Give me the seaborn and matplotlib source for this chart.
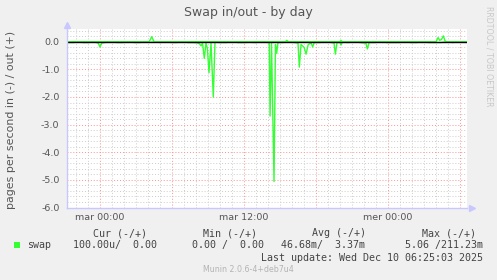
import matplotlib
matplotlib.use("Agg")
import matplotlib.pyplot as plt
import matplotlib.ticker as mticker
import seaborn as sns
import pandas as pd

# ---- data (hours relative to "mar 00:00") ----
t_in = [-2.75, -2.2, -1.8, -1.4, -1.0, -0.5, -0.15, 0.0, 0.15, 0.5, 1.0, 1.4,
        1.9, 2.4, 2.9, 3.3, 3.8, 4.2, 4.6, 5.0, 5.5, 6.0, 6.4, 6.9, 7.3, 7.7,
        8.1, 8.3, 8.42, 8.54, 8.69, 8.83, 8.95, 9.08, 9.25, 9.44, 9.58, 10.0,
        10.5, 11.0, 11.5, 12.0, 12.5, 13.0, 13.5, 14.0, 14.1, 14.17, 14.29,
        14.5, 14.62, 14.72, 14.83, 15.2, 15.7, 16.2, 16.5, 16.61, 16.75, 17.0,
        17.17, 17.35, 17.6, 17.72, 17.85, 18.3, 18.8, 19.3, 19.5, 19.61, 19.75,
        20.0, 20.08, 20.2, 20.7, 21.2, 21.7, 22.15, 22.28, 22.42, 22.9, 23.4,
        23.9, 24.4, 24.9, 25.4, 25.9, 26.4, 26.9, 27.4, 27.9, 28.4, 28.9, 29.4,
        29.9, 30.58]
v_in = [-0.03, -0.03, 0.0, -0.03, -0.03, 0.0, -0.05, -0.19, -0.05, -0.02, 0.0, -0.03,
        -0.03, 0.0, -0.03, -0.03, 0.0, -0.02, 0.0, -0.03, 0.0, -0.03, -0.03, 0.0, -0.03, -0.03,
        -0.04, -0.08, -0.15, -0.05, -0.60, -0.05, -0.25, -1.12, -0.05, -2.00, -0.02, -0.03,
        -0.03, 0.0, -0.03, -0.03, -0.02, -0.03, 0.0, -0.03, -0.05, -2.69, -0.05,
        -5.06, -0.10, -0.42, -0.03, -0.03, 0.0, -0.03, -0.05, -0.92, -0.10, -0.20,
        -0.45, -0.10, -0.05, -0.19, -0.03, -0.03, 0.0, -0.03, -0.05, -0.45, -0.03,
        -0.03, -0.12, -0.02, -0.03, 0.0, -0.03, -0.05, -0.26, -0.03, -0.03, 0.0,
        -0.03, -0.03, -0.03, 0.0, -0.03, -0.03, 0.0, -0.03, -0.03, -0.03, 0.0, -0.03,
        0.0, -0.02]

t_out = [-2.75, 4.1, 4.31, 4.5, 15.45, 15.56, 15.7, 20.0, 20.08, 20.18,
         28.0, 28.17, 28.3, 28.45, 28.61, 28.75, 28.85, 30.58]
v_out = [0.0, 0.0, 0.18, 0.0, 0.0, 0.05, 0.0, 0.0, 0.05, 0.0,
         0.0, 0.15, 0.05, 0.08, 0.21, 0.03, 0.0, 0.0]

xtick_pos = [0, 6, 12, 18, 24, 30]
xtick_lab = ["mar 00:00", "", "mar 12:00", "", "mer 00:00", ""]

legend_cols = ["Cur (-/+)", "Min (-/+)", "Avg (-/+)", "Max (-/+)"]
legend_vals = ["100.00u/  0.00", "0.00 /  0.00", "46.68m/  3.37m", "5.06 /211.23m"]

df_in = pd.DataFrame({"t": t_in, "v": v_in})
df_out = pd.DataFrame({"t": t_out, "v": v_out})

# ---- style ----
sns.set_style("white")
plt.rcParams["font.family"] = ["DejaVu Sans"]

W, H = 497, 280
fig = plt.figure(figsize=(W / 100, H / 100), dpi=100, facecolor="#f0f0f0")

def px(x, y):
    return x / W, 1 - y / H

L, R, T, B = 67, 467, 29, 207.5
ax = fig.add_axes([L / W, 1 - B / H, (R - L) / W, (B - T) / H])
ax.set_facecolor("white")

green = "#33ff33"
sns.lineplot(data=df_in, x="t", y="v", ax=ax, color=green, lw=1.0, estimator=None, sort=False)
sns.lineplot(data=df_out, x="t", y="v", ax=ax, color=green, lw=1.0, estimator=None, sort=False)
ax.axhline(0, color="black", lw=1.0, zorder=5)

ax.set_xlim(-2.75, 30.58)
ax.set_ylim(-6.0, 0.46)
ax.set_xlabel("")
ax.set_ylabel("")

ax.xaxis.set_major_locator(mticker.FixedLocator(xtick_pos))
ax.set_xticklabels(xtick_lab)
ax.xaxis.set_minor_locator(mticker.MultipleLocator(1))
ax.yaxis.set_major_locator(mticker.MultipleLocator(1))
ax.yaxis.set_minor_locator(mticker.MultipleLocator(0.2))
ax.yaxis.set_major_formatter(mticker.FormatStrFormatter("%.1f"))

ax.grid(which="minor", color="#cccccc", linestyle=(0, (1, 2)), lw=0.7)
ax.grid(which="major", color="#ff9090", linestyle=(0, (1, 2)), lw=0.7)
ax.set_axisbelow(True)

ax.tick_params(axis="both", which="major", length=2.2, width=0.7, color="#ff9090",
               labelsize=6.8, labelcolor="#555555", direction="out")
ax.tick_params(axis="both", which="minor", length=1.5, width=0.7, color="#bbbbbb", direction="out")
ax.tick_params(axis="y", which="major", pad=3.2)
ax.tick_params(axis="x", which="major", pad=1.8)

for s in ["top", "right"]:
    ax.spines[s].set_visible(False)
for s in ["left", "bottom"]:
    ax.spines[s].set_color("#c8c8ff")
    ax.spines[s].set_linewidth(1.0)
    ax.spines[s].set_zorder(6)

# axis arrows
ax.plot([1.012], [0], marker=">", color="#c8c8ff", ms=4, transform=ax.transAxes, clip_on=False)
ax.plot([0], [1.02], marker="^", color="#c8c8ff", ms=4, transform=ax.transAxes, clip_on=False)

# ---- texts ----
fig.text(*px(248.4, 12.5), "Swap in/out - by day", ha="center", va="center",
         fontsize=9, color="#555555")
fig.text(*px(11, 120), "pages per second in (-) / out (+)", rotation=90,
         ha="center", va="center", fontsize=7.9, color="#555555")
fig.text(*px(489, 56), "RRDTOOL / TOBI OETIKER", rotation=270, ha="center", va="center",
         fontsize=5.66, color="#c8c8c8")

mono = "DejaVu Sans Mono"
hdr_right = [146.7, 256.7, 366.0, 476.0]
val_right = [156.7, 264.3, 365.0, 483.3]
for txt, xr in zip(legend_cols, hdr_right):
    fig.text(*px(xr, 233.5), txt, ha="right", va="center", family=mono,
             fontsize=7.2, color="#444444")
for txt, xr in zip(legend_vals, val_right):
    fig.text(*px(xr, 245.3), txt, ha="right", va="center", family=mono,
             fontsize=7.2, color="#444444")
fig.text(*px(26.7, 245.3), "swap", ha="left", va="center", family=mono,
         fontsize=7.2, color="#444444")
fig.patches.append(plt.Rectangle(px(14, 247.5), 6 / W, 6 / H, transform=fig.transFigure,
                                 facecolor=green, edgecolor="none"))
fig.text(*px(483.3, 257.6), "Last update: Wed Dec 10 06:25:03 2025", ha="right",
         va="center", family=mono, fontsize=7.2, color="#444444")
fig.text(*px(248.8, 269.5), "Munin 2.0.6-4+deb7u4", ha="center", va="center",
         fontsize=5.7, color="#b4b4b4")

fig.savefig("out.png", dpi=100, facecolor=fig.get_facecolor())
